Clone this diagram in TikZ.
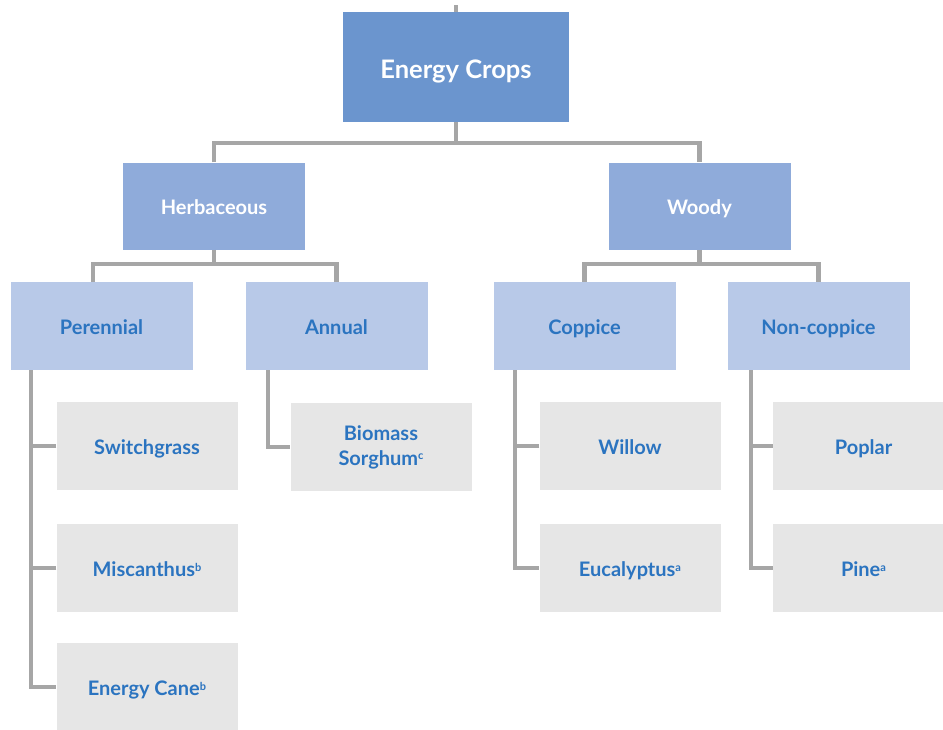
\documentclass[tikz,border=0pt]{standalone}
\usepackage{fontspec}
\setmainfont{Lato}
\definecolor{cTop}{HTML}{6B95CE}
\definecolor{cMid}{HTML}{8FABDA}
\definecolor{cLow}{HTML}{B8C9E8}
\definecolor{cLeaf}{HTML}{E6E6E6}
\definecolor{cTxt}{HTML}{2B74C0}
\definecolor{cLine}{HTML}{A6A6A6}
\newcommand{\supx}[1]{\raisebox{0.55ex}{\fontsize{11}{11}\selectfont #1}}
\begin{document}
\begin{tikzpicture}[x=1pt,y=-1pt,
  base/.style={rectangle,inner sep=0pt,font=\bfseries\fontsize{20}{25}\selectfont,align=center},
  oneline/.style={text height=17.5pt,text depth=0pt},
  topbox/.style={base,fill=cTop,text=white,minimum width=226pt,minimum height=110pt,font=\bfseries\fontsize{25.5}{30}\selectfont,text height=22.5pt,text depth=0pt},
  midbox/.style={base,oneline,fill=cMid,text=white,minimum width=182pt,minimum height=87pt},
  lowbox/.style={base,oneline,fill=cLow,text=cTxt,minimum width=182pt,minimum height=88pt},
  leafbox/.style={base,fill=cLeaf,text=cTxt,minimum width=181pt,minimum height=88pt},
  conn/.style={draw=cLine,line width=4.8pt,line join=miter}]
\useasboundingbox (0,0) rectangle (943,729);
% nodes
\node[topbox] (ec) at (456,67) {Energy Crops};
\node[midbox] (herb) at (214,206) {Herbaceous};
\node[midbox] (woody) at (699.5,206) {Woody};
\node[lowbox] (per) at (101.5,326) {Perennial};
\node[lowbox] (ann) at (336.5,326) {Annual};
\node[lowbox] (cop) at (584.5,326) {Coppice};
\node[lowbox] (non) at (818.5,326) {Non-coppice};
\node[leafbox,oneline] (sw) at (147,446) {Switchgrass};
\node[leafbox,oneline] (mis) at (147,568) {Miscanthus\supx{b}};
\node[leafbox,oneline] (cane) at (147,687) {Energy Cane\supx{b}};
\node[leafbox] (bio) at (381,447) {Biomass\\Sorghum\supx{c}};
\node[leafbox,oneline] (wil) at (630,446) {Willow};
\node[leafbox,oneline] (euc) at (630,568) {Eucalyptus\supx{a}};
\node[leafbox,oneline] (pop) at (863.5,446) {Poplar};
\node[leafbox,oneline] (pine) at (863.5,568) {Pine\supx{a}};
% connectors
\coordinate (stub) at (456,5);
\coordinate (bar1) at (456,143);
\coordinate (hb) at (214,264);
\coordinate (wb) at (699.5,264);
\draw[conn] (stub) -- (ec.north);
\draw[conn] (ec.south) -- (bar1);
\draw[conn] (herb.north) |- (bar1) -| (woody.north);
\draw[conn] (herb.south) -- (hb);
\draw[conn] ([xshift=-8.5pt]per.north) |- (hb) -| (ann.north);
\draw[conn] (woody.south) -- (wb);
\draw[conn] (cop.north) |- (wb) -| (non.north);
\draw[conn] ([xshift=-70.5pt]per.south) |- (cane.west);
\draw[conn] (sw.west) -- ++(-26,0);
\draw[conn] (mis.west) -- ++(-26,0);
\draw[conn] ([xshift=-68.5pt]ann.south) |- (bio.west);
\draw[conn] ([xshift=-69.5pt]cop.south) |- (euc.west);
\draw[conn] (wil.west) -- ++(-24,0);
\draw[conn] ([xshift=-67.5pt]non.south) |- (pine.west);
\draw[conn] (pop.west) -- ++(-22,0);
\end{tikzpicture}
\end{document}
